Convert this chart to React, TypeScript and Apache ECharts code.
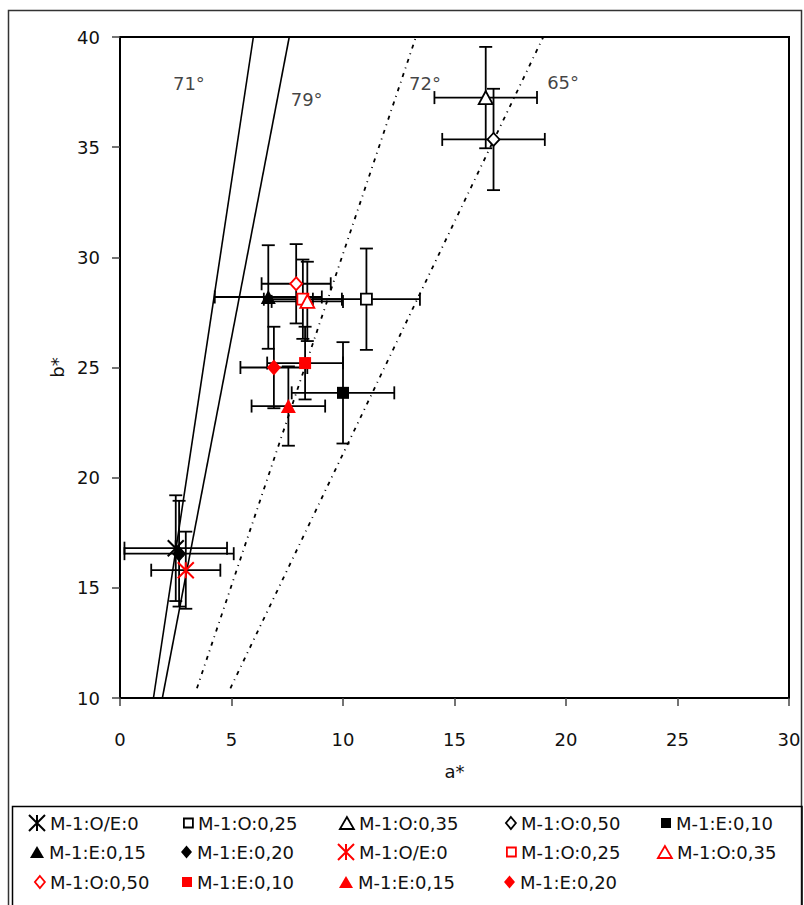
import React, { useEffect, useRef } from "react";
import * as echarts from "echarts";

// ---- data ----
const seriesLabels = [
  "M-1:O/E:0", "M-1:O:0,25", "M-1:O:0,35", "M-1:O:0,50", "M-1:E:0,10", "M-1:E:0,15", "M-1:E:0,20",
  "M-1:O/E:0", "M-1:O:0,25", "M-1:O:0,35", "M-1:O:0,50", "M-1:E:0,10", "M-1:E:0,15", "M-1:E:0,20",
];
const seriesGroups = ["black", "black", "black", "black", "black", "black", "black", "red", "red", "red", "red", "red", "red", "red"];
const aValues = [2.5, 11.05, 16.4, 16.75, 10.0, 6.65, 2.65, 2.95, 8.2, 8.4, 7.9, 8.3, 7.55, 6.9];
const bValues = [16.8, 28.1, 37.25, 35.35, 23.85, 28.2, 16.55, 15.8, 28.1, 28.0, 28.8, 25.2, 23.25, 25.0];
const aErrors = [2.3, 2.4, 2.3, 2.3, 2.3, 2.4, 2.45, 1.55, 1.75, 1.6, 1.55, 1.7, 1.65, 1.5];
const bErrors = [2.4, 2.3, 2.3, 2.3, 2.3, 2.35, 2.4, 1.75, 1.8, 1.8, 1.8, 1.65, 1.8, 1.85];

const refLineLabels = ["71°", "79°", "72°", "65°"];
const refLineStartA = [1.5, 1.9, 3.45, 4.95];
const refLineStartB = [10, 10, 10.44, 10.44];
const refLineEndA = [5.98, 7.59, 13.27, 18.98];
const refLineEndB = [40, 40, 40, 40];
const refLabelA = [3.09, 8.37, 13.68, 19.87];
const refLabelB = [37.9, 37.15, 37.9, 37.93];

const xAxisMin = 0, xAxisMax = 30, xAxisStep = 5;
const yAxisMin = 10, yAxisMax = 40, yAxisStep = 5;

// ---- styles ----
const FONT = "DejaVu Sans";
const TEXT = "#111";
const groupColor: Record<string, string> = { black: "#000000", red: "#ff0000" };
const ASTERISK = "path://M0,0L16,16M16,0L0,16M8,0L8,16";
const markerShapes = [ASTERISK, "rect", "triangle", "diamond", "rect", "triangle", "diamond"];
const markerOpen = [false, true, true, true, false, false, false];
const markerSizes: any[] = [16, 11, [14, 13], [12, 13], 12, [15, 14], [14, 16]];
const legendIconW = [16, 9, 14, 10, 10, 14, 11];
const legendIconH = [16, 9, 12, 12, 10, 12, 13];
const lineDashes: any[] = ["solid", "solid", [4, 5, 1, 5], [4, 5, 1, 5]];
const legendTextX = [49, 197, 358, 520, 676];
const legendRowY = [825, 854, 884];

function markerStyle(i: number) {
  const k = i % 7;
  const c = groupColor[seriesGroups[i]];
  if (k === 0) return { color: "transparent", borderColor: c, borderWidth: 2, opacity: 1 };
  if (markerOpen[k]) return { color: "#ffffff", borderColor: c, borderWidth: 1.8, opacity: 1 };
  return { color: c, borderColor: c, borderWidth: 0, opacity: 1 };
}

export default function App() {
  const ref = useRef<HTMLDivElement>(null);
  useEffect(() => {
    if (!ref.current) return;
    const chart = echarts.init(ref.current, null, { renderer: "svg" });
    const names = seriesLabels.map((l, i) => `${seriesGroups[i]}|${l}`);

    const errorSeries = {
      type: "custom",
      name: "errors",
      z: 2,
      silent: true,
      data: aValues.map((a, i) => [a, bValues[i], aErrors[i], bErrors[i]]),
      encode: { x: 0, y: 1 },
      renderItem: (params: any, api: any) => {
        const a = api.value(0), b = api.value(1), ea = api.value(2), eb = api.value(3);
        const pL = api.coord([a - ea, b]);
        const pR = api.coord([a + ea, b]);
        const pT = api.coord([a, b + eb]);
        const pB = api.coord([a, b - eb]);
        const cap = 6.5;
        const style = { stroke: "#000", lineWidth: 1.8, fill: null };
        const ln = (x1: number, y1: number, x2: number, y2: number) => ({ type: "line", shape: { x1, y1, x2, y2 }, style });
        return {
          type: "group",
          children: [
            ln(pL[0], pL[1], pR[0], pR[1]),
            ln(pL[0], pL[1] - cap, pL[0], pL[1] + cap),
            ln(pR[0], pR[1] - cap, pR[0], pR[1] + cap),
            ln(pT[0], pT[1], pB[0], pB[1]),
            ln(pT[0] - cap, pT[1], pT[0] + cap, pT[1]),
            ln(pB[0] - cap, pB[1], pB[0] + cap, pB[1]),
          ],
        };
      },
    };

    const lineSeries = refLineLabels.map((l, i) => ({
      type: "line",
      name: "ref " + l,
      z: 1,
      silent: true,
      showSymbol: false,
      symbol: "none",
      data: [[refLineStartA[i], refLineStartB[i]], [refLineEndA[i], refLineEndB[i]]],
      lineStyle: { color: "#000", width: i < 2 ? 1.6 : 1.8, type: lineDashes[i] },
    }));

    const labelSeries = {
      type: "scatter",
      name: "angles",
      silent: true,
      symbolSize: 1,
      itemStyle: { color: "transparent" },
      data: refLineLabels.map((l, i) => ({ value: [refLabelA[i], refLabelB[i]], name: l })),
      label: {
        show: true,
        position: "inside",
        formatter: (p: any) => p.name,
        fontFamily: FONT,
        fontSize: 18,
        color: TEXT,
      },
      z: 4,
    };

    const pointSeries = names.map((n, i) => ({
      type: "scatter",
      name: n,
      z: 3,
      symbol: markerShapes[i % 7],
      symbolSize: markerSizes[i % 7],
      itemStyle: markerStyle(i),
      emphasis: { disabled: true },
      data: [[aValues[i], bValues[i]]],
    }));

    const legends = names.map((n, i) => {
      const row = Math.floor(i / 5), col = i % 5;
      const k = i % 7;
      const w = legendIconW[k];
      return {
        left: legendTextX[col] - 5 - w,
        top: legendRowY[row] - 11,
        padding: 0,
        itemWidth: w,
        itemHeight: legendIconH[k],
        itemGap: 0,
        selectedMode: false,
        data: [{ name: n, icon: markerShapes[k], itemStyle: markerStyle(i) }],
        formatter: (name: string) => name.split("|")[1],
        textStyle: { fontFamily: FONT, fontSize: 18, color: TEXT },
      };
    });

    chart.setOption({
      animation: false,
      backgroundColor: "#ffffff",
      textStyle: { fontFamily: FONT },
      grid: { left: 120, top: 37, right: 15, bottom: 207, show: true, borderColor: "#000", borderWidth: 2 },
      xAxis: {
        type: "value",
        min: xAxisMin,
        max: xAxisMax,
        interval: xAxisStep,
        name: "a*",
        nameLocation: "middle",
        nameGap: 64,
        nameTextStyle: { fontFamily: FONT, fontSize: 18, color: TEXT },
        axisLine: { show: true, lineStyle: { color: "#000", width: 2 } },
        axisTick: { show: true, inside: false, length: 8, lineStyle: { color: "#444", width: 1.5 } },
        axisLabel: { margin: 32, fontFamily: FONT, fontSize: 18, color: TEXT },
        splitLine: { show: false },
      },
      yAxis: {
        type: "value",
        min: yAxisMin,
        max: yAxisMax,
        interval: yAxisStep,
        name: "b*",
        nameLocation: "middle",
        nameGap: 52,
        nameTextStyle: { fontFamily: FONT, fontSize: 18, color: TEXT },
        axisLine: { show: true, lineStyle: { color: "#000", width: 2 } },
        axisTick: { show: true, inside: false, length: 8, lineStyle: { color: "#444", width: 1.5 } },
        axisLabel: { margin: 20, fontFamily: FONT, fontSize: 18, color: TEXT },
        splitLine: { show: false },
      },
      legend: legends,
      graphic: [
        { type: "rect", silent: true, z: -1, shape: { x: 8.5, y: 10.5, width: 793, height: 1000 }, style: { fill: null, stroke: "#333", lineWidth: 1.5 } },
        { type: "rect", silent: true, z: -1, shape: { x: 12.5, y: 806.5, width: 789.5, height: 200 }, style: { fill: null, stroke: "#000", lineWidth: 1.5 } },
      ],
      series: [...lineSeries, errorSeries, ...pointSeries, labelSeries],
    } as any);
    return () => chart.dispose();
  }, []);
  return <div ref={ref} style={{ position: "absolute", left: 0, top: 0, width: 804, height: 905 }} />;
}
